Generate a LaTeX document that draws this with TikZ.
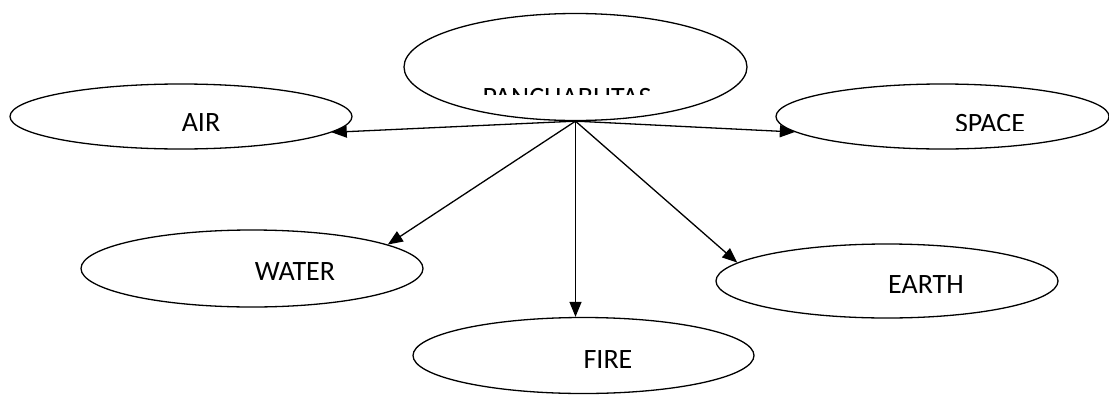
\documentclass[tikz,border=0pt]{standalone}
\usepackage{fontspec}
\setmainfont{Carlito}
\usetikzlibrary{shapes.geometric,arrows.meta}
\tikzset{
  bhuta/.style={ellipse,draw=black,line width=1.3pt,inner sep=0pt},
  bhutatext/.style={inner sep=0pt,font=\fontsize{28}{32}\selectfont},
  flow/.style={line width=1.3pt,-{Triangle[length=15pt,width=12pt]}}
}

\begin{document}
\begin{tikzpicture}[x=1pt,y=-1pt]
\useasboundingbox (0,0) rectangle (1109,394);
\node[bhuta,minimum width=343pt,minimum height=107pt] (pan)   at (575.5,67)    {};
  \node[bhuta,minimum width=342pt,minimum height=65pt]  (air)   at (181,116.5)   {};
  \node[bhuta,minimum width=333pt,minimum height=65pt]  (space) at (942.5,116.5) {};
  \node[bhuta,minimum width=342pt,minimum height=77pt]  (water) at (252,268.5)   {};
  \node[bhuta,minimum width=341pt,minimum height=76pt]  (fire)  at (583.5,355.5) {};
  \node[bhuta,minimum width=342pt,minimum height=74pt]  (earth) at (887,281)     {};
% labels, as placed in the ellipses
\begin{scope}
  \clip (0,0) rectangle (1109,94);
  \node[bhutatext] (pantext) at (567,98) {PANCHABUTAS};
\end{scope}
\begin{scope}
  \clip (0,0) rectangle (1109,130);
  \node[bhutatext] (spacetext) at (990,124) {SPACE};
\end{scope}
  \node[bhutatext] (airtext)   at (201,123) {AIR};
  \node[bhutatext] (watertext) at (295,272) {WATER};
  \node[bhutatext] (firetext)  at (608,360) {FIRE};
  \node[bhutatext] (earthtext) at (926,285) {EARTH};
\draw[flow] (pan.south) to (air.-6);
\draw[flow] (pan.south) to (space.186);
\draw[flow] (pan.south) to (water.10);
\draw[flow] (pan.south) to (pan.south |- fire.north);
\draw[flow] (pan.south) to (earth.173);
\end{tikzpicture}
\end{document}
